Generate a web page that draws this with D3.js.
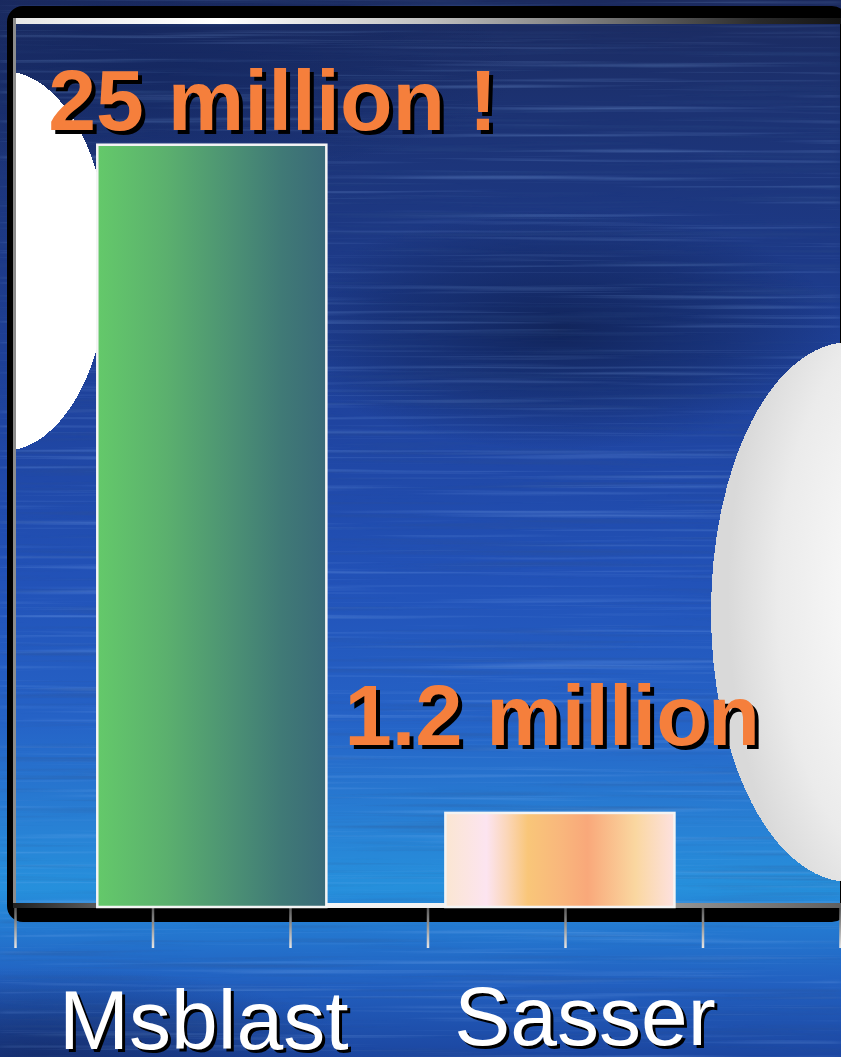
<!DOCTYPE html>
<html>
<head>
<meta charset="utf-8">
<script src="https://cdn.jsdelivr.net/npm/d3@7"></script>
<style>
  html, body { margin: 0; padding: 0; background: #1b2a5e; overflow: hidden; }
  svg { display: block; }
</style>
</head>
<body>
<svg id="chart" width="841" height="1057"></svg>
<script>
// ---- data ----
const categories = ["Msblast", "Sasser"];
const infections = [25, 1.2];                 // infected machines, millions
const valueLabels = ["25 million !", "1.2 million"];
const valueExtent = [-2.15, 29.3];            // value axis floor sits below zero
const tickSteps = [0, 1, 2, 3, 4, 5, 6];      // category-axis tick marks

// ---- setup ----
const W = 841, H = 1057;
const FONT = "'Liberation Sans', Arial, Helvetica, sans-serif";
const svg = d3.select("#chart");
const defs = svg.append("defs");

function linear(id, stops, attrs) {
  const g = defs.append("linearGradient").attr("id", id);
  Object.entries(attrs || {}).forEach(([k, v]) => g.attr(k, v));
  stops.forEach(([o, c, a]) => g.append("stop").attr("offset", o).attr("stop-color", c)
    .attr("stop-opacity", a === undefined ? 1 : a));
}
function radial(id, stops, attrs) {
  const g = defs.append("radialGradient").attr("id", id);
  Object.entries(attrs || {}).forEach(([k, v]) => g.attr(k, v));
  stops.forEach(([o, c, a]) => g.append("stop").attr("offset", o).attr("stop-color", c)
    .attr("stop-opacity", a === undefined ? 1 : a));
}

// background colouring
linear("bgGrad", [
  [0, "#1b2a5e"], [0.1, "#1c3272"], [0.25, "#1d3a88"], [0.4, "#1f44a0"],
  [0.55, "#2252b8"], [0.68, "#2562c6"], [0.78, "#2880d4"], [0.84, "#2690dc"],
  [0.88, "#2478d0"], [0.93, "#2260c0"], [1, "#1c46a0"]
], { x1: 0, y1: 0, x2: 0, y2: 1 });
radial("darkBlob", [[0, "#0c1a44", 0.7], [0.6, "#0e1d4a", 0.35], [1, "#0e1d4a", 0]]);
radial("darkCorner", [[0, "#13265e", 0.75], [1, "#13265e", 0]]);

// bar fills
linear("msblastFill", [
  [0, "#64c96a"], [0.3, "#5bb06e"], [0.6, "#4b9074"], [0.8, "#407a76"], [1, "#3a6a78"]
]);
linear("sasserFill", [
  [0, "#fbe6d2"], [0.18, "#fce4f0"], [0.27, "#fbd6b8"], [0.36, "#f9c679"],
  [0.5, "#f9b77c"], [0.62, "#f9a87a"], [0.83, "#fad7a0"], [1, "#fde1e0"]
]);

// frame highlights
linear("topLine", [[0, "#e6e6e6"], [0.25, "#ffffff"], [0.5, "#c0c0c0"], [0.7, "#7a7a7a"], [0.9, "#2a2a2a"], [1, "#151515"]]);
linear("axisLine", [[0, "#202020"], [0.1, "#5a5a5a"], [0.3, "#f4f4f4"], [0.55, "#f0f0f0"], [0.75, "#a0a0a0"], [1, "#606060"]]);
linear("tickGrad", [[0, "#5a5a5a"], [0.35, "#8a8a8a"], [1, "#e6e6e6"]],
  { gradientUnits: "userSpaceOnUse", x1: 0, y1: 0, x2: 0, y2: 40 });

// right-hand disc shading
radial("discGrad", [[0, "#ffffff"], [0.35, "#f8f8f8"], [0.75, "#ebebeb"], [1, "#d9d9d9"]],
  { cx: 0.78, cy: 0.47, r: 0.72 });

// brushed streak texture
const fLight = defs.append("filter").attr("id", "streakLight")
  .attr("filterUnits", "userSpaceOnUse").attr("x", 0).attr("y", 0).attr("width", W).attr("height", H);
fLight.append("feTurbulence").attr("type", "fractalNoise").attr("baseFrequency", "0.0025 0.2")
  .attr("numOctaves", 3).attr("seed", 7);
fLight.append("feColorMatrix").attr("type", "matrix")
  .attr("values", "0 0 0 0 0.3  0 0 0 0 0.52  0 0 0 0 0.95  2.4 0 0 0 -1.3");
fLight.append("feGaussianBlur").attr("stdDeviation", "6 0.6");
const fDark = defs.append("filter").attr("id", "streakDark")
  .attr("filterUnits", "userSpaceOnUse").attr("x", 0).attr("y", 0).attr("width", W).attr("height", H);
fDark.append("feTurbulence").attr("type", "fractalNoise").attr("baseFrequency", "0.003 0.16")
  .attr("numOctaves", 3).attr("seed", 3);
fDark.append("feColorMatrix").attr("type", "matrix")
  .attr("values", "0 0 0 0 0.03  0 0 0 0 0.08  0 0 0 0 0.25  -2.4 0 0 0 1.12");
fDark.append("feGaussianBlur").attr("stdDeviation", "6 0.6");

defs.append("clipPath").attr("id", "plotClip")
  .append("rect").attr("x", 14).attr("y", 18).attr("width", W).attr("height", 890);

// ---- scales ----
const plot = { left: 15, right: 840, top: 24, bottom: 907 };
const x = d3.scaleBand().domain(categories).range([plot.left, plot.right])
  .paddingInner(0.342).paddingOuter(0.356).align(0.332);
const y = d3.scaleLinear().domain(valueExtent).range([plot.bottom, plot.top]);
const tickX = d3.scaleLinear().domain(d3.extent(tickSteps)).range([plot.left, plot.right]);

// ---- background ----
svg.append("rect").attr("width", W).attr("height", H).attr("fill", "url(#bgGrad)");
svg.append("ellipse").attr("cx", 560).attr("cy", 330).attr("rx", 280).attr("ry", 120).attr("fill", "url(#darkBlob)");
svg.append("ellipse").attr("cx", 160).attr("cy", 70).attr("rx", 360).attr("ry", 110).attr("fill", "url(#darkCorner)");
svg.append("ellipse").attr("cx", 40).attr("cy", 1057).attr("rx", 320).attr("ry", 90).attr("fill", "url(#darkCorner)");
svg.append("rect").attr("width", W).attr("height", H).attr("filter", "url(#streakLight)").attr("opacity", 0.32);
svg.append("rect").attr("width", W).attr("height", H).attr("filter", "url(#streakDark)").attr("opacity", 0.35);

// white disc on the left, inside the plot frame
svg.append("ellipse").attr("clip-path", "url(#plotClip)")
  .attr("cx", 3).attr("cy", 261).attr("rx", 106).attr("ry", 190)
  .attr("fill", "#ffffff").attr("shape-rendering", "crispEdges");

// ---- plot frame ----
const outer = d3.path();
(function roundRect(p, x0, y0, x1, y1, r) {
  p.moveTo(x0 + r, y0); p.lineTo(x1 - r, y0); p.arcTo(x1, y0, x1, y0 + r, r);
  p.lineTo(x1, y1 - r); p.arcTo(x1, y1, x1 - r, y1, r); p.lineTo(x0 + r, y1);
  p.arcTo(x0, y1, x0, y1 - r, r); p.lineTo(x0, y0 + r); p.arcTo(x0, y0, x0 + r, y0, r); p.closePath();
})(outer, 7, 6, 848, 922, 16);
outer.rect(13, 18, 827, 890);
svg.append("path").attr("d", outer.toString()).attr("fill", "#000").attr("fill-rule", "evenodd");

svg.append("rect").attr("x", 13).attr("y", 18).attr("width", W - 13).attr("height", 6).attr("fill", "url(#topLine)");
svg.append("rect").attr("x", 13).attr("y", 18).attr("width", 3).attr("height", 885).attr("fill", "#8c8c8c");
svg.append("rect").attr("x", 13).attr("y", 903).attr("width", W - 13).attr("height", 5).attr("fill", "url(#axisLine)");

// category-axis tick marks
const axis = svg.append("g").attr("transform", `translate(0,${plot.bottom + 1})`)
  .call(d3.axisBottom(tickX).tickValues(tickSteps).tickSize(40).tickFormat(() => ""));
axis.select(".domain").remove();
axis.selectAll(".tick line").attr("stroke", "url(#tickGrad)").attr("stroke-width", 2.5);

// ---- bars ----
const fills = ["url(#msblastFill)", "url(#sasserFill)"];
svg.append("g").selectAll("rect").data(categories).join("rect")
  .attr("x", d => x(d))
  .attr("y", (d, i) => y(infections[i]))
  .attr("width", x.bandwidth())
  .attr("height", (d, i) => y(valueExtent[0]) - y(infections[i]))
  .attr("fill", (d, i) => fills[i])
  .attr("stroke", "#f4f4f4").attr("stroke-width", 2.5);

// right-hand disc
svg.append("ellipse").attr("cx", 850).attr("cy", 612).attr("rx", 139).attr("ry", 270)
  .attr("fill", "url(#discGrad)").attr("shape-rendering", "crispEdges");

// ---- text ----
function shadowText(g, tx, ty, text, size, weight, color, off) {
  [["#000", off], [color, 0]].forEach(([c, o]) => {
    g.append("text").attr("x", tx + o).attr("y", ty + o).text(text)
      .attr("font-family", FONT).attr("font-size", size).attr("font-weight", weight)
      .attr("fill", c);
  });
}

// value call-outs above each bar
const labelNudge = [[-49, -15], [-101, -68]];
const labelSize = [86, 85];
const valueG = svg.append("g");
categories.forEach((c, i) => {
  shadowText(valueG, x(c) + labelNudge[i][0], y(infections[i]) + labelNudge[i][1],
    valueLabels[i], labelSize[i], "bold", "#f57f3c", 4);
});

// category names under the axis
const nameNudge = [[-8, 1049], [25, 1045]];
const nameG = svg.append("g");
categories.forEach((c, i) => {
  const cx = x(c) + x.bandwidth() / 2 + nameNudge[i][0];
  [["#000", 3], ["#ffffff", 0]].forEach(([col, o]) => {
    nameG.append("text").attr("x", cx + o).attr("y", nameNudge[i][1] + o).text(c)
      .attr("text-anchor", "middle").attr("font-family", FONT).attr("font-size", 84)
      .attr("fill", col);
  });
});
</script>
</body>
</html>
